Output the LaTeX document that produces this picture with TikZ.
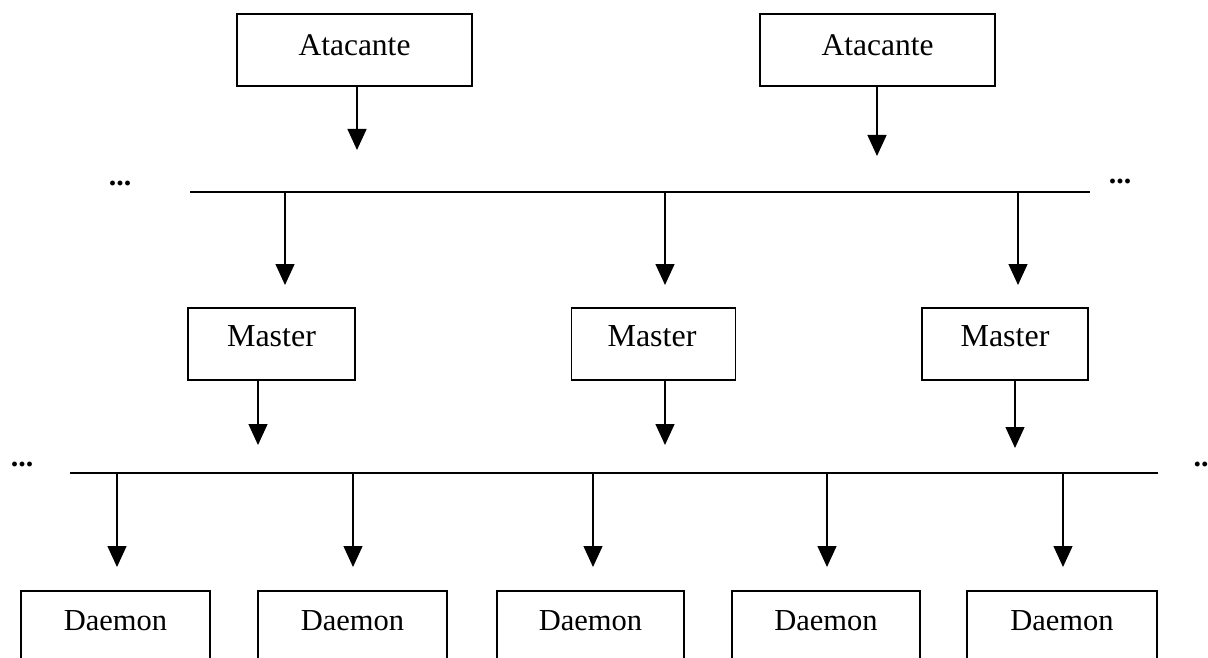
\documentclass[tikz,border=0pt]{standalone}
\usepackage{fontspec}
\setmainfont{Liberation Serif}
\usetikzlibrary{arrows.meta}
\begin{document}
\begin{tikzpicture}[x=1pt,y=-1pt,
  box/.style={draw,line width=1.3pt,inner sep=0pt},
  alb/.style={inner sep=0pt,anchor=base,font=\fontsize{31.5}{36}\selectfont},
  mlb/.style={inner sep=0pt,anchor=base,font=\fontsize{32}{36}\selectfont},
  dlb/.style={inner sep=0pt,anchor=base,font=\fontsize{30.5}{36}\selectfont},
  bus/.style={line width=2pt},
  arr/.style={line width=1.3pt,-{Triangle[length=21pt,width=19pt]}},
  dots/.style={inner sep=0pt,font=\bfseries\fontsize{30}{36}\selectfont}]
\useasboundingbox (0,0) rectangle (1208,658);
% Attackers
\node[box,minimum width=235pt,minimum height=72pt] (A1) at (354.5,50) {};
\node[box,minimum width=235pt,minimum height=72pt] (A2) at (877.5,50) {};
\node[alb] (A1t) at (354.5,56) {Atacante};
\node[alb] (A2t) at (877.5,56) {Atacante};
\coordinate (a1t) at (357,150);
\coordinate (a2t) at (877,156);
\draw[arr] (A1.south -| a1t) -- (a1t);
\draw[arr] (A2.south -| a2t) -- (a2t);
% top bus
\coordinate (b1l) at (190,192);
\coordinate (b1r) at (1090,192);
\draw[bus] (b1l) -- (b1r);
\node[dots] (dl1) at (120,183) {...};
\node[dots] (dr1) at (1120,181) {...};
% masters
\node[box,minimum width=167pt,minimum height=72pt] (M1) at (271.5,344) {};
\node[box,minimum width=164pt,minimum height=72pt] (M2) at (653.5,344) {};
\node[box,minimum width=166pt,minimum height=72pt] (M3) at (1005,344) {};
\node[mlb] (M1t) at (271.5,346.5) {Master};
\node[mlb] (M2t) at (652,346.5) {Master};
\node[mlb] (M3t) at (1005,346.5) {Master};
\coordinate (u1) at (285,285);
\coordinate (u2) at (665,285);
\coordinate (u3) at (1018,285);
\draw[arr] (b1l -| u1) -- (u1);
\draw[arr] (b1l -| u2) -- (u2);
\draw[arr] (b1l -| u3) -- (u3);
\coordinate (m1t) at (258,445);
\coordinate (m2t) at (665,445);
\coordinate (m3t) at (1015,448);
\draw[arr] (M1.south -| m1t) -- (m1t);
\draw[arr] (M2.south -| m2t) -- (m2t);
\draw[arr] (M3.south -| m3t) -- (m3t);
% bottom bus
\coordinate (b2l) at (70,473);
\coordinate (b2r) at (1158,473);
\draw[bus] (b2l) -- (b2r);
\node[dots] (dl2) at (22,464) {...};
\node[dots] (dr2) at (1201,464) {..};
% daemons
\foreach \n/\l/\r/\ax in {1/21/210/117,2/258/447/353,3/497/684/593,4/732/920/827,5/967/1157/1063}{
  \node[dlb] (D\n) at ({(\l+\r)/2},630) {Daemon};
  \draw[line width=1.3pt] (\l,660) -- (\l,591) -- (\r,591) -- (\r,660);
  \coordinate (d\n t) at (\ax,567);
  \draw[arr] (b2l -| d\n t) -- (d\n t);
}
\end{tikzpicture}
\end{document}
